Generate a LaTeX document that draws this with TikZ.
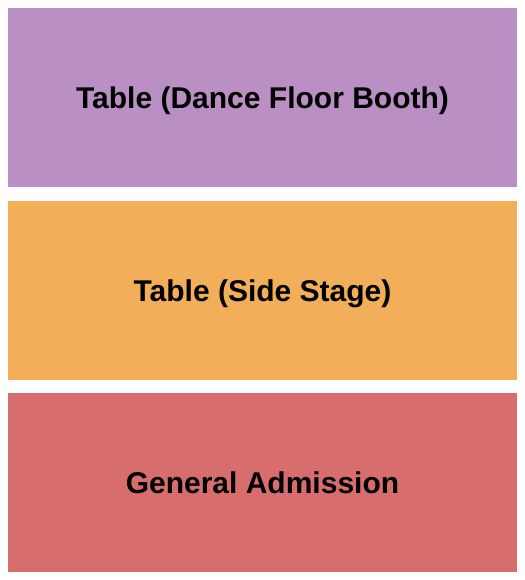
\documentclass[tikz,border=0pt]{standalone}
\usepackage{fontspec}
\setmainfont{Liberation Sans}
\definecolor{booth}{RGB}{186,143,196}
\definecolor{side}{RGB}{242,174,89}
\definecolor{ga}{RGB}{215,109,109}
\begin{document}
\begin{tikzpicture}[x=1bp,y=-1bp,
  section/.style={inner sep=0pt, outer sep=0pt, minimum width=509bp, minimum height=179bp, text height=22bp, text depth=0bp, anchor=north west, font=\fontsize{30bp}{36bp}\selectfont\bfseries, text=black}]
\useasboundingbox (0,0) rectangle (525,580);
\node[section, fill=booth] (booth) at (8,8) {Table (Dance Floor Booth)};
\node[section, fill=side] (side) at (8,201) {Table (Side Stage)};
\node[section, fill=ga] (ga) at (8,393) {General Admission};
\end{tikzpicture}
\end{document}
